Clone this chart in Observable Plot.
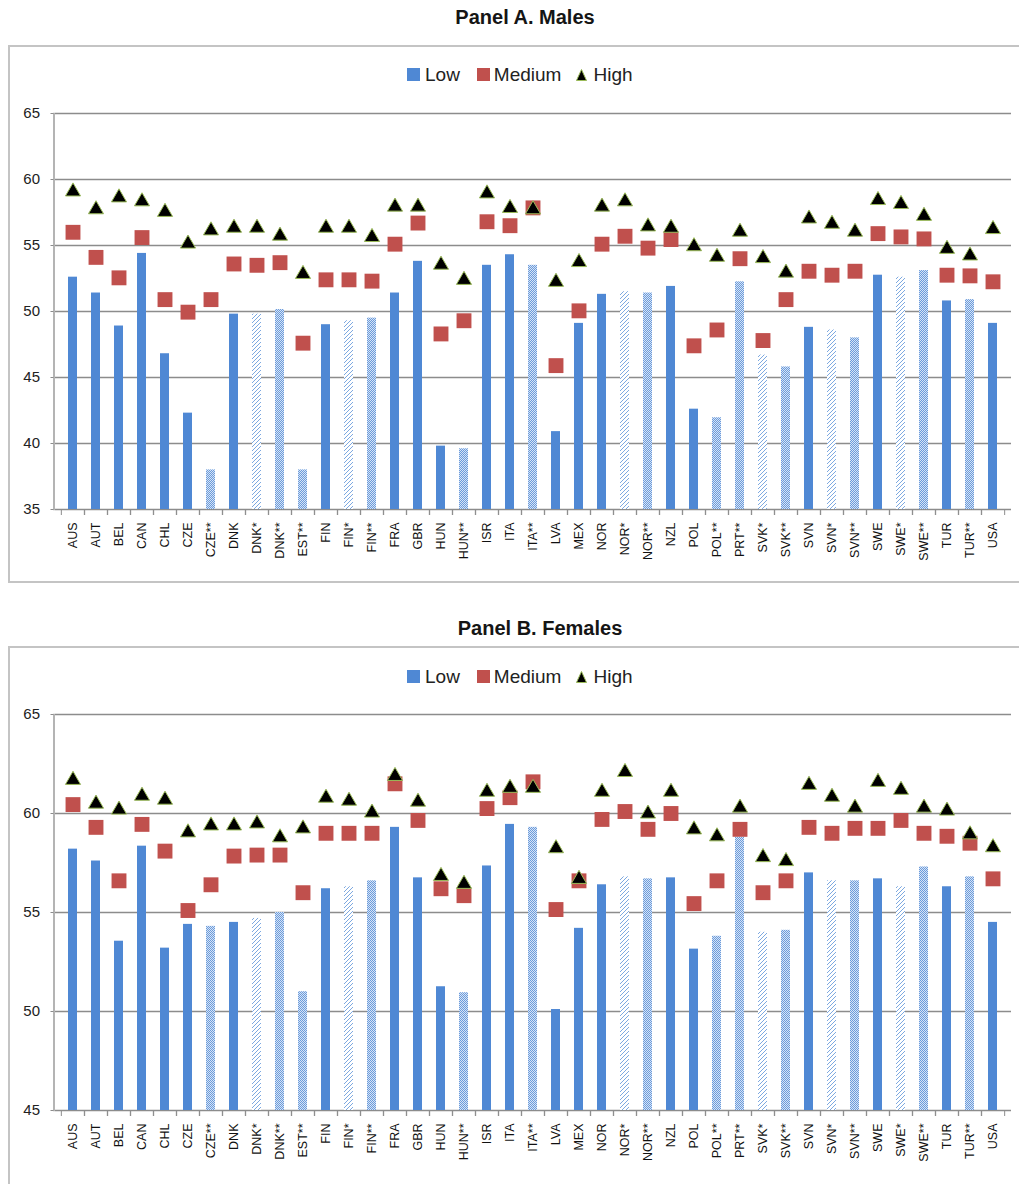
<!DOCTYPE html>
<html><head><meta charset="utf-8">
<script src="https://cdn.jsdelivr.net/npm/d3@7"></script>
<script src="https://cdn.jsdelivr.net/npm/@observablehq/plot@0.6"></script>
<style>
body{margin:0;background:#fff;font-family:"Liberation Sans",Arial,sans-serif;}
#page{position:relative;width:1019px;height:1184px;overflow:hidden;background:#fff;}
.title{position:absolute;left:0;width:1050px;text-align:center;font-weight:bold;font-size:20px;line-height:20px;color:#151515;}
.box{position:absolute;left:8px;width:1030px;border:2px solid #c4c4c4;box-sizing:border-box;}
.legend{position:absolute;left:407px;height:19px;display:flex;align-items:center;font-size:19px;line-height:19px;color:#222;white-space:nowrap;}
.legend .sw{display:inline-block;width:13px;height:13px;}
.chart{position:absolute;left:0;}
</style></head>
<body>
<svg width="0" height="0" style="position:absolute">
<defs>
<pattern id="hatch" patternUnits="userSpaceOnUse" width="4" height="4">
<rect width="4" height="4" fill="#fff"/>
<g fill="#7ea9e0" shape-rendering="crispEdges">
<rect x="3" y="0" width="1" height="1"/><rect x="2" y="1" width="1" height="1"/>
<rect x="1" y="2" width="1" height="1"/><rect x="0" y="3" width="1" height="1"/>
</g>
</pattern>
<pattern id="dots" patternUnits="userSpaceOnUse" width="2" height="2">
<rect width="2" height="2" fill="#d6e4f6" shape-rendering="crispEdges"/>
<rect width="1" height="1" fill="#6c9bdb" shape-rendering="crispEdges"/>
<rect x="1" y="1" width="1" height="1" fill="#6c9bdb" shape-rendering="crispEdges"/>
</pattern>
</defs></svg>
<div id="page">
  <div class="title" style="top:7px">Panel A. Males</div>
  <div class="box" style="top:45px;height:538px"></div>
  <div class="legend" style="top:65px" id="legA"></div>
  <div class="chart" style="top:95px" id="chartA"></div>

  <div class="title" style="top:618px;left:15px">Panel B. Females</div>
  <div class="box" style="top:646px;height:560px"></div>
  <div class="legend" style="top:667px" id="legB"></div>
  <div class="chart" style="top:696px" id="chartB"></div>
</div>
<script>
const categories = ["AUS","AUT","BEL","CAN","CHL","CZE","CZE**","DNK","DNK*","DNK**","EST**","FIN","FIN*","FIN**","FRA","GBR","HUN","HUN**","ISR","ITA","ITA**","LVA","MEX","NOR","NOR*","NOR**","NZL","POL","POL**","PRT**","SVK*","SVK**","SVN","SVN*","SVN**","SWE","SWE*","SWE**","TUR","TUR**","USA"];

const maleLow  = [52.6,51.4,48.9,54.4,46.8,42.3,38.0,49.8,49.8,50.15,38.0,49.0,49.3,49.5,51.4,53.8,39.8,39.6,53.5,54.3,53.5,40.9,49.1,51.3,51.5,51.4,51.9,42.6,41.95,52.25,46.7,45.8,48.8,48.6,48.0,52.75,52.6,53.1,50.8,50.9,49.1];
const maleMed  = [56.0,54.1,52.55,55.6,50.9,49.95,50.9,53.6,53.5,53.7,47.6,52.4,52.4,52.3,55.1,56.7,48.3,49.3,56.8,56.5,57.85,45.9,50.05,55.1,55.7,54.8,55.45,47.4,48.6,54.0,47.8,50.9,53.05,52.75,53.05,55.9,55.65,55.5,52.75,52.7,52.25];
const maleHigh = [59.25,57.9,58.8,58.5,57.7,55.3,56.3,56.5,56.5,55.9,53.0,56.5,56.5,55.8,58.1,58.1,53.7,52.55,59.1,58.0,57.9,52.4,53.9,58.1,58.5,56.6,56.5,55.1,54.3,56.2,54.2,53.1,57.2,56.8,56.2,58.6,58.3,57.4,54.9,54.4,56.4];

const femLow  = [58.2,57.6,53.55,58.35,53.2,54.4,54.3,54.5,54.7,55.0,51.0,56.2,56.3,56.6,59.3,56.75,51.25,50.95,57.35,59.45,59.3,50.1,54.2,56.4,56.8,56.7,56.75,53.15,53.8,58.8,54.0,54.1,57.0,56.6,56.6,56.7,56.3,57.3,56.3,56.8,54.5];
const femMed  = [60.45,59.3,56.6,59.45,58.1,55.1,56.4,57.85,57.9,57.9,56.0,59.0,59.0,59.0,61.5,59.65,56.2,55.85,60.25,60.8,61.6,55.15,56.6,59.7,60.1,59.2,60.0,55.45,56.6,59.2,56.0,56.6,59.3,59.0,59.25,59.25,59.65,59.0,58.85,58.5,56.7];
const femHigh = [61.8,60.6,60.3,61.0,60.8,59.15,59.5,59.5,59.6,58.9,59.35,60.9,60.75,60.15,62.0,60.7,56.95,56.55,61.2,61.4,61.4,58.35,56.8,61.2,62.2,60.1,61.2,59.3,58.95,60.4,57.9,57.7,61.55,60.95,60.4,61.7,61.3,60.4,60.25,59.05,58.4];

const maleTicks = [35,40,45,50,55,60,65];
const femTicks = [45,50,55,60,65];
const legendLabels = ["Low","Medium","High"];

const BLUE = "#4f88d4", RED = "#c0504d", TRI = "#000", TRI_EDGE = "#9bbb59", GRID = "#8c8c8c";

function legend(el) {
  el.innerHTML =
    `<span class="sw" style="background:${BLUE}"></span><span style="margin-left:5px">${legendLabels[0]}</span>` +
    `<span class="sw" style="background:${RED};margin-left:17px"></span><span style="margin-left:4px">${legendLabels[1]}</span>` +
    `<svg width="11" height="12" style="margin-left:15px"><path d="M5.5,0.5 L10.5,11.5 L0.5,11.5 Z" fill="${TRI}" stroke="${TRI_EDGE}" stroke-width="1"/></svg><span style="margin-left:6px">${legendLabels[2]}</span>`;
}

function makeChart(low, med, high, ticks) {
  const yMin = ticks[0], yMax = ticks[ticks.length - 1];
  const rows = categories.map((c, i) => ({
    c, low: low[i], med: med[i], high: high[i],
    kind: c.endsWith("**") ? "dots" : c.endsWith("*") ? "hatch" : "solid"
  }));
  const width = 1019, ml = 55, mr = 8;
  const half = (width - ml - mr) / categories.length / 2;
  return Plot.plot({
    width, height: 485, marginTop: 18, marginBottom: 71, marginLeft: ml, marginRight: mr,
    style: {fontFamily: '"Liberation Sans", Arial, sans-serif', background: "transparent", overflow: "visible"},
    x: {domain: categories, paddingInner: 0.59, paddingOuter: 0.295, axis: null, label: null},
    y: {domain: [yMin, yMax], axis: null, label: null},
    marks: [
      Plot.ruleY(ticks, {stroke: GRID, strokeWidth: 1.3}),
      Plot.axisY({ticks, tickSize: 3, tickPadding: 11, fontSize: 15, stroke: GRID, fill: "#222", label: null, dx: -1.5}),
      Plot.frame({anchor: "left", stroke: GRID, strokeWidth: 1.3, dx: -1.5}),
      Plot.axisX({tickSize: 6, tickFormat: () => "", dx: half, stroke: GRID, label: null}),
      Plot.axisX({tickSize: 6, tickFormat: () => "", dx: -half, stroke: GRID, label: null}),
      Plot.axisX({tickSize: 0, tickPadding: 13, tickRotate: -90, fontSize: 12.5, fill: "#111", label: null}),
      Plot.barY(rows.filter(d => d.kind === "solid"), {x: "c", y1: yMin, y2: "low", fill: BLUE}),
      Plot.barY(rows.filter(d => d.kind === "hatch"), {x: "c", y1: yMin, y2: "low", fill: "url(#hatch)"}),
      Plot.barY(rows.filter(d => d.kind === "dots"), {x: "c", y1: yMin, y2: "low", fill: "url(#dots)"}),
      Plot.dot(rows, {x: "c", y: "med", symbol: "square", r: 8.4, fill: RED}),
      Plot.dot(rows, {x: "c", y: "high", symbol: "triangle", r: 5.6, fill: TRI, stroke: TRI_EDGE, strokeWidth: 1, dy: 2.2})
    ]
  });
}

legend(document.getElementById("legA"));
legend(document.getElementById("legB"));
document.getElementById("chartA").appendChild(makeChart(maleLow, maleMed, maleHigh, maleTicks));
document.getElementById("chartB").appendChild(makeChart(femLow, femMed, femHigh, femTicks));
</script>
</body></html>
